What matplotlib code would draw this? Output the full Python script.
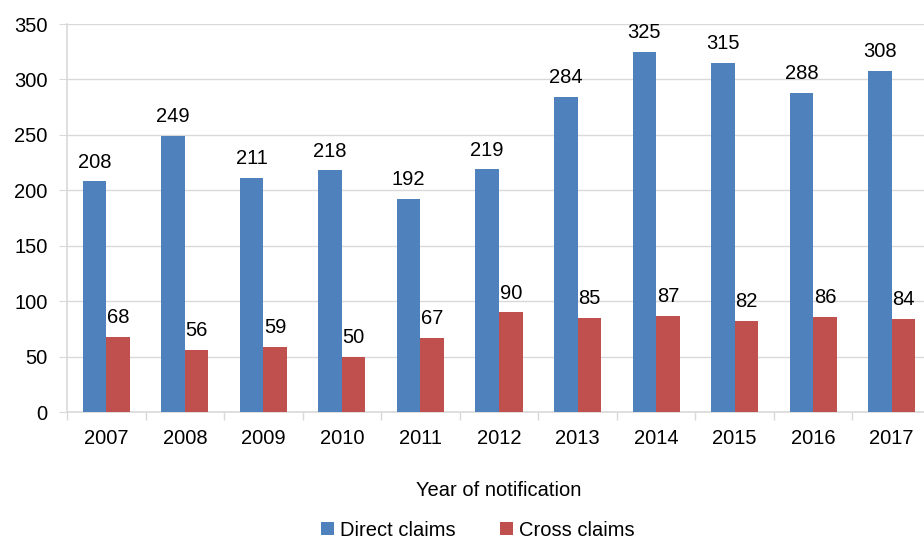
import numpy as np
import matplotlib
matplotlib.use("Agg")
from matplotlib import pyplot as plt

plt.rcParams["font.family"] = ["Liberation Sans", "DejaVu Sans"]

years = ["2007", "2008", "2009", "2010", "2011", "2012",
         "2013", "2014", "2015", "2016", "2017"]
direct_claims = [208, 249, 211, 218, 192, 219, 284, 325, 315, 288, 308]
cross_claims = [68, 56, 59, 50, 67, 90, 85, 87, 82, 86, 84]

blue = "#4F81BD"
red = "#C0504D"
grid_col = "#D9D9D9"
fs = 14.5

fig = plt.figure(figsize=(9.24, 5.39), dpi=100)
ax = fig.add_axes([67 / 924, 1 - 412 / 539, 864 / 924, 388 / 539])

x = np.arange(len(years))
w = 0.3
b1 = ax.bar(x - w / 2, direct_claims, w, color=blue, label="Direct claims", zorder=3)
b2 = ax.bar(x + w / 2, cross_claims, w, color=red, label="Cross claims", zorder=3)

for rect, v in zip(b1, direct_claims):
    ax.annotate(str(v), (rect.get_x() + rect.get_width() / 2, v),
                xytext=(0, 7), textcoords="offset points",
                ha="center", va="bottom", fontsize=fs)
for rect, v in zip(b2, cross_claims):
    ax.annotate(str(v), (rect.get_x() + rect.get_width() / 2, v),
                xytext=(0, 7), textcoords="offset points",
                ha="center", va="bottom", fontsize=fs)

ax.set_xlim(-0.5, len(years) - 0.5)
ax.set_ylim(0, 350)
ax.set_yticks(np.arange(0, 351, 50))
ax.set_xticks(x)
ax.set_xticklabels(years)
ax.set_xticks(np.arange(-0.5, len(years), 1), minor=True)
ax.tick_params(axis="x", which="major", length=0, labelsize=fs, pad=12)
ax.tick_params(axis="x", which="minor", length=6, color=grid_col, width=1)
ax.tick_params(axis="y", length=6, color=grid_col, labelsize=fs, pad=8)

ax.yaxis.grid(True, color=grid_col, linewidth=1, zorder=0)
ax.set_axisbelow(True)
for s in ["top", "right"]:
    ax.spines[s].set_visible(False)
for s in ["left", "bottom"]:
    ax.spines[s].set_color(grid_col)
    ax.spines[s].set_linewidth(1.2)

ax.set_xlabel("Year of notification", fontsize=fs, labelpad=24)

fig.legend(handles=[b1, b2], loc="lower center", bbox_to_anchor=(0.517, -0.035),
           ncol=2, frameon=False, fontsize=fs, handlelength=0.65,
           handleheight=0.65, handletextpad=0.3, columnspacing=2.2)

fig.savefig("out.png", dpi=100)
